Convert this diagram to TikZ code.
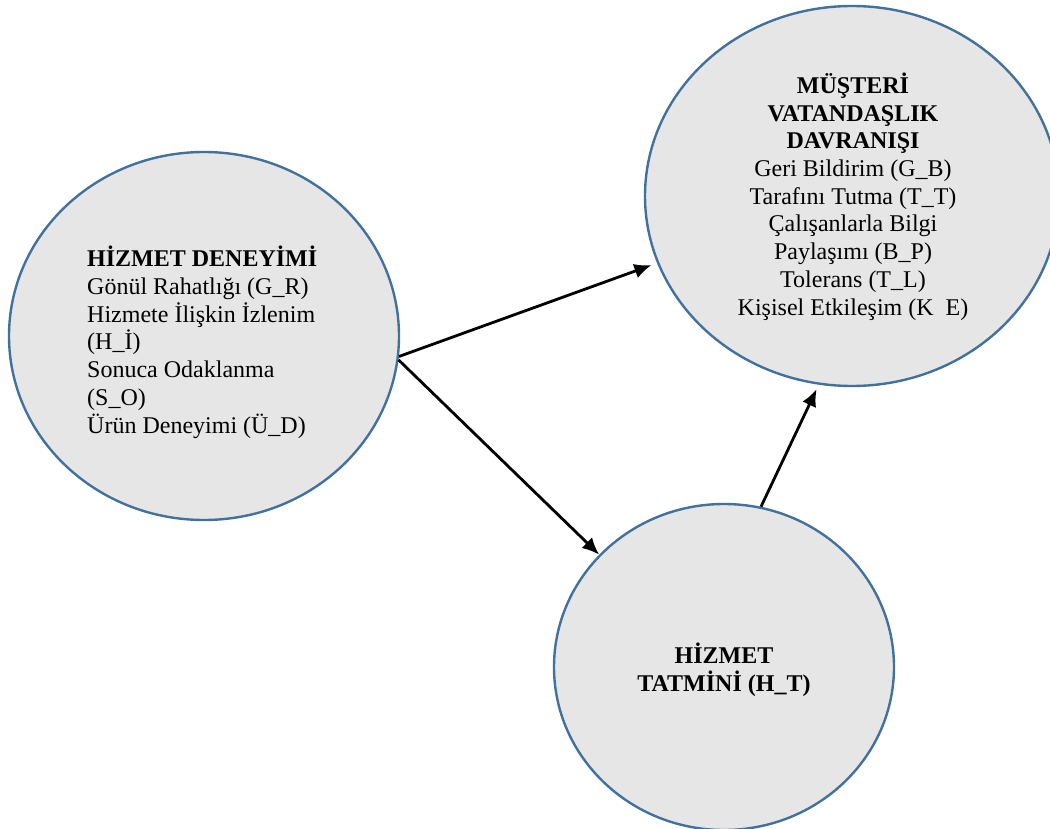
\documentclass[tikz,border=0pt]{standalone}
\usepackage{fontspec}
\setmainfont{Liberation Serif}
\usetikzlibrary{shapes.geometric,arrows.meta}
\definecolor{circfill}{HTML}{E6E6E6}
\definecolor{circline}{HTML}{41719C}
\tikzset{
  bubble/.style={ellipse, draw=circline, fill=circfill, line width=2.4pt, inner sep=0pt},
  txt/.style={inner sep=0pt, font=\fontsize{24}{27.7}\selectfont},
  arr/.style={draw=black, line width=2.8pt, -{Latex[length=17pt,width=15pt]}}
}
\begin{document}
\begin{tikzpicture}[x=1pt,y=-1pt]
\useasboundingbox (0,0) rectangle (1050,829);
\node[bubble, minimum width=390pt, minimum height=368pt] (L) at (204,336) {};
\node[bubble, minimum width=414pt, minimum height=380pt] (T) at (852,196) {};
\node[bubble, minimum width=340pt, minimum height=326pt] (B) at (724,667) {};

\node[txt, anchor=base west, align=left] (Ltxt) at (87,433)
  {\textbf{HİZMET DENEYİMİ}\\Gönül Rahatlığı (G\_R)\\Hizmete İlişkin İzlenim\\(H\_İ)\\Sonuca Odaklanma\\(S\_O)\\Ürün Deneyimi (Ü\_D)};
\node[txt, anchor=base, align=center] (Ttxt) at (853,315)
  {\textbf{MÜŞTERİ}\\\textbf{VATANDAŞLIK}\\\textbf{DAVRANIŞI}\\Geri Bildirim (G\_B)\\Tarafını Tutma (T\_T)\\Çalışanlarla Bilgi\\Paylaşımı (B\_P)\\Tolerans (T\_L)\\Kişisel Etkileşim (K\phantom{\_}E)};
\node[txt, anchor=base, align=center] (Btxt) at (724,691)
  {\textbf{HİZMET}\\\textbf{TATMİNİ (H\_T)}};

\draw[arr, shorten >=6pt] (L.-6) -- (T.-161);
\draw[arr] (L.-7.5) -- (B.138);
\draw[arr, shorten >=5pt] (B.77) -- (T.-100);
\end{tikzpicture}
\end{document}
